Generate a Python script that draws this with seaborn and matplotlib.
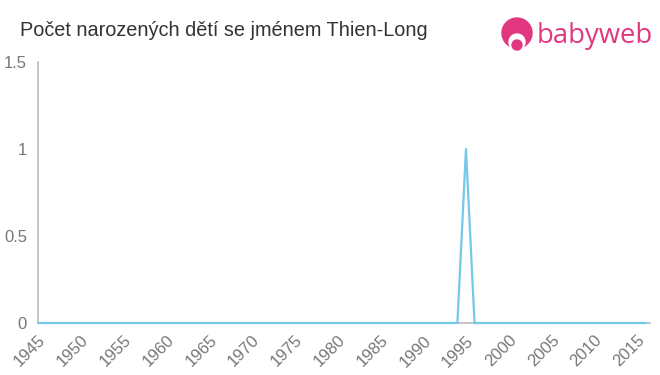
import matplotlib
matplotlib.use("Agg")
import matplotlib.pyplot as plt
from matplotlib.patches import Circle
import seaborn as sns
import pandas as pd

years = [1945, 1946, 1947, 1948, 1949, 1950, 1951, 1952, 1953, 1954,
         1955, 1956, 1957, 1958, 1959, 1960, 1961, 1962, 1963, 1964,
         1965, 1966, 1967, 1968, 1969, 1970, 1971, 1972, 1973, 1974,
         1975, 1976, 1977, 1978, 1979, 1980, 1981, 1982, 1983, 1984,
         1985, 1986, 1987, 1988, 1989, 1990, 1991, 1992, 1993, 1994,
         1995, 1996, 1997, 1998, 1999, 2000, 2001, 2002, 2003, 2004,
         2005, 2006, 2007, 2008, 2009, 2010, 2011, 2012, 2013, 2014,
         2015, 2016]
counts = [0, 0, 0, 0, 0, 0, 0, 0, 0, 0,
          0, 0, 0, 0, 0, 0, 0, 0, 0, 0,
          0, 0, 0, 0, 0, 0, 0, 0, 0, 0,
          0, 0, 0, 0, 0, 0, 0, 0, 0, 0,
          0, 0, 0, 0, 0, 0, 0, 0, 0, 0,
          1, 0, 0, 0, 0, 0, 0, 0, 0, 0,
          0, 0, 0, 0, 0, 0, 0, 0, 0, 0,
          0, 0]
x_ticks = [1945, 1950, 1955, 1960, 1965, 1970, 1975, 1980, 1985, 1990,
           1995, 2000, 2005, 2010, 2015]
y_ticks = [0, 0.5, 1, 1.5]
y_tick_labels = ["0", "0.5", "1", "1.5"]
title = "Počet narozených dětí se jménem Thien-Long"

sns.set_style("white")
plt.rcParams["font.family"] = ["Liberation Sans", "DejaVu Sans"]

df = pd.DataFrame({"year": years, "count": counts})

fig = plt.figure(figsize=(6.6, 3.75), dpi=100)
ax = fig.add_axes([38 / 660, 52 / 375, 612 / 660, 261 / 375])

sns.lineplot(data=df, x="year", y="count", ax=ax, color="#74c8ea",
             linewidth=1.6, zorder=3, clip_on=False)

ax.set_xlim(1945, 2016.5)
ax.set_ylim(0, 1.5)
ax.set_xticks(x_ticks)
ax.set_xticklabels([str(t) for t in x_ticks], rotation=45, ha="right",
                   rotation_mode="anchor", color="#777777", fontsize=12)
ax.set_yticks(y_ticks)
ax.set_yticklabels(y_tick_labels, color="#777777", fontsize=12)
ax.set_xlabel("")
ax.set_ylabel("")

for side in ["top", "right"]:
    ax.spines[side].set_visible(False)
for side in ["left", "bottom"]:
    ax.spines[side].set_color("#bbbbbb")
    ax.spines[side].set_linewidth(1.2)
ax.tick_params(axis="both", which="both", length=5, width=1,
               color="#bbbbbb", direction="out")
ax.tick_params(axis="x", pad=2)
ax.tick_params(axis="y", pad=3)
ax.grid(False)

fig.text(20 / 660, 1 - 30 / 375, title, fontsize=14.3, color="#333333",
         va="center", ha="left")

# babyweb logo
pink = "#e0377f"
logo_ax = fig.add_axes([495 / 660, 1 - 55 / 375, 160 / 660, 45 / 375])
logo_ax.set_xlim(0, 160)
logo_ax.set_ylim(0, 45)
logo_ax.axis("off")
logo_ax.add_patch(Circle((22, 22), 15, color=pink))
logo_ax.add_patch(Circle((22, 13), 8, color="white"))
logo_ax.add_patch(Circle((22, 10), 5, color=pink))
logo_ax.text(42, 18.5, "babyweb", fontsize=19.8, color=pink, va="center",
             ha="left", family=["Open Sans", "DejaVu Sans"])

fig.savefig("out.png", dpi=100)
